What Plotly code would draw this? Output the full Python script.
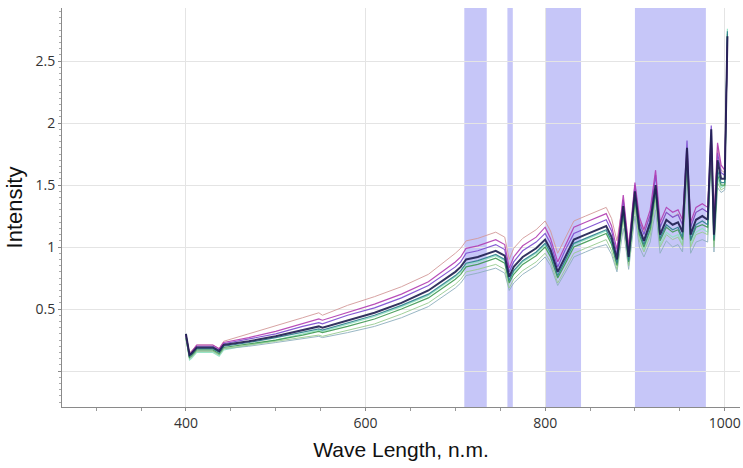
import plotly.graph_objects as go

wavelength = [400, 404, 406, 412, 430, 437, 442, 470, 500, 530, 548, 552, 580, 610, 640, 670, 700, 706, 712, 725,
              745, 755, 760, 765, 775, 790, 800, 806, 814, 822, 832, 845, 858, 868, 874, 880, 887, 893, 900, 905,
              910, 917, 923, 928, 935, 942, 948, 953, 958, 962, 968, 975, 981, 985, 988, 992, 996, 1000, 1003]

s_rose = [0.28, 0.15, 0.16, 0.21, 0.21, 0.18, 0.24, 0.30, 0.36, 0.43, 0.47, 0.45, 0.53, 0.60, 0.68, 0.78, 0.95, 0.99, 1.05, 1.07,
          1.12, 1.08, 0.90, 0.99, 1.07, 1.14, 1.21, 1.13, 0.95, 1.07, 1.21, 1.25, 1.29, 1.32, 1.23, 1.05, 1.38, 1.00, 1.42, 1.22,
          1.12, 1.26, 1.50, 1.17, 1.28, 1.24, 1.27, 1.18, 1.70, 1.17, 1.28, 1.31, 1.28, 1.80, 1.20, 1.82, 1.62, 1.60, 2.65]
s_magenta = [0.29, 0.14, 0.15, 0.21, 0.21, 0.18, 0.23, 0.27, 0.32, 0.38, 0.42, 0.41, 0.47, 0.54, 0.62, 0.72, 0.88, 0.92, 0.99, 1.01,
             1.06, 1.02, 0.83, 0.92, 1.01, 1.08, 1.16, 1.07, 0.88, 1.01, 1.16, 1.20, 1.24, 1.27, 1.17, 0.98, 1.42, 1.00, 1.52, 1.24,
             1.14, 1.30, 1.62, 1.20, 1.32, 1.28, 1.30, 1.22, 1.78, 1.20, 1.32, 1.35, 1.32, 1.85, 1.22, 1.84, 1.66, 1.62, 2.62]
s_purple = [0.29, 0.13, 0.15, 0.20, 0.20, 0.17, 0.22, 0.26, 0.30, 0.36, 0.39, 0.38, 0.45, 0.51, 0.59, 0.69, 0.84, 0.88, 0.95, 0.97,
            1.02, 0.98, 0.80, 0.88, 0.97, 1.04, 1.11, 1.03, 0.84, 0.97, 1.11, 1.15, 1.19, 1.22, 1.13, 0.94, 1.38, 0.96, 1.50, 1.20,
            1.10, 1.26, 1.58, 1.16, 1.28, 1.24, 1.26, 1.18, 1.86, 1.16, 1.28, 1.31, 1.28, 1.98, 1.16, 1.76, 1.60, 1.58, 2.68]
s_navy = [0.30, 0.13, 0.14, 0.19, 0.19, 0.16, 0.21, 0.24, 0.28, 0.33, 0.36, 0.35, 0.41, 0.47, 0.55, 0.65, 0.80, 0.84, 0.90, 0.92,
          0.97, 0.93, 0.76, 0.84, 0.92, 0.99, 1.06, 0.98, 0.80, 0.92, 1.06, 1.10, 1.14, 1.17, 1.08, 0.90, 1.33, 0.92, 1.45, 1.15,
          1.05, 1.20, 1.50, 1.10, 1.22, 1.18, 1.20, 1.12, 1.80, 1.10, 1.22, 1.25, 1.22, 1.95, 1.10, 1.70, 1.55, 1.55, 2.70]
s_teal = [0.30, 0.12, 0.13, 0.18, 0.18, 0.15, 0.20, 0.23, 0.27, 0.31, 0.34, 0.33, 0.39, 0.45, 0.53, 0.62, 0.77, 0.81, 0.87, 0.89,
          0.94, 0.90, 0.73, 0.81, 0.89, 0.96, 1.03, 0.95, 0.77, 0.89, 1.03, 1.07, 1.11, 1.14, 1.05, 0.87, 1.30, 0.89, 1.42, 1.12,
          1.02, 1.17, 1.47, 1.07, 1.18, 1.14, 1.16, 1.08, 1.76, 1.06, 1.18, 1.21, 1.18, 1.90, 1.06, 1.62, 1.52, 1.52, 2.74]
s_green = [0.27, 0.11, 0.12, 0.17, 0.17, 0.14, 0.19, 0.22, 0.25, 0.29, 0.32, 0.31, 0.36, 0.42, 0.50, 0.59, 0.74, 0.78, 0.84, 0.86,
           0.91, 0.87, 0.71, 0.78, 0.86, 0.93, 1.00, 0.92, 0.75, 0.86, 1.00, 1.04, 1.08, 1.11, 1.02, 0.85, 1.28, 0.88, 1.38, 1.10,
           1.00, 1.14, 1.44, 1.05, 1.16, 1.12, 1.14, 1.06, 1.72, 1.05, 1.16, 1.18, 1.16, 1.88, 1.05, 1.58, 1.50, 1.50, 2.72]
s_lightgreen = [0.26, 0.10, 0.11, 0.16, 0.16, 0.13, 0.18, 0.21, 0.24, 0.27, 0.29, 0.28, 0.33, 0.38, 0.46, 0.55, 0.70, 0.74, 0.80, 0.82,
                0.86, 0.82, 0.67, 0.74, 0.81, 0.88, 0.95, 0.88, 0.71, 0.82, 0.95, 0.99, 1.03, 1.06, 0.97, 0.82, 1.22, 0.85, 1.32, 1.05,
                0.96, 1.09, 1.38, 1.00, 1.10, 1.06, 1.08, 1.01, 1.66, 1.00, 1.10, 1.12, 1.10, 1.82, 1.00, 1.52, 1.46, 1.48, 2.70]
s_grayblue = [0.26, 0.10, 0.11, 0.16, 0.16, 0.13, 0.18, 0.20, 0.23, 0.26, 0.28, 0.27, 0.31, 0.36, 0.43, 0.52, 0.67, 0.71, 0.77, 0.79,
              0.83, 0.79, 0.65, 0.71, 0.78, 0.85, 0.92, 0.85, 0.69, 0.79, 0.92, 0.96, 1.00, 1.02, 0.94, 0.80, 1.15, 0.82, 1.25, 1.00,
              0.92, 1.04, 1.30, 0.95, 1.05, 1.00, 1.02, 0.96, 1.58, 0.95, 1.04, 1.06, 1.04, 1.75, 0.96, 1.48, 1.44, 1.46, 2.66]
s_aqua = [0.27, 0.09, 0.10, 0.15, 0.15, 0.12, 0.17, 0.21, 0.25, 0.30, 0.33, 0.32, 0.38, 0.44, 0.52, 0.61, 0.76, 0.80, 0.86, 0.88,
          0.93, 0.89, 0.72, 0.80, 0.88, 0.95, 1.02, 0.94, 0.76, 0.88, 1.02, 1.06, 1.10, 1.13, 1.04, 0.86, 1.26, 0.86, 1.36, 1.08,
          0.98, 1.12, 1.42, 1.02, 1.12, 1.08, 1.10, 1.02, 1.70, 1.02, 1.12, 1.15, 1.12, 1.85, 1.02, 1.55, 1.48, 1.50, 2.76]

band_starts = [710, 758, 800, 900]
band_ends = [735, 764, 840, 979]

x_tickvals = [400, 600, 800, 1000]
x_ticktext = ["400", "600", "800", "1000"]
y_tickvals = [0, 0.5, 1, 1.5, 2, 2.5]
y_ticktext = ["", "0.5", "1", "1.5", "2", "2.5"]

series = [
    (s_aqua, "#8fe3c2", 1.2),
    (s_grayblue, "#8fb0bf", 1.0),
    (s_lightgreen, "#98cc90", 1.0),
    (s_rose, "#d49a9a", 1.0),
    (s_green, "#3f9a52", 1.2),
    (s_teal, "#2c7f8c", 1.2),
    (s_purple, "#7a4ad0", 1.2),
    (s_magenta, "#b23cb2", 1.2),
    (s_navy, "#1d1d4f", 2.0),
]

fig = go.Figure()
for vals, color, w in series:
    fig.add_trace(go.Scatter(x=wavelength, y=vals, mode="lines",
                             line=dict(color=color, width=w), opacity=0.9,
                             showlegend=False, hoverinfo="skip"))

for a, b in zip(band_starts, band_ends):
    fig.add_vrect(x0=a, x1=b, fillcolor="#c6c6f8", opacity=1, line_width=0, layer="below")

fig.update_layout(
    width=743, height=468,
    margin=dict(l=62, r=3, t=8, b=61),
    paper_bgcolor="white", plot_bgcolor="white",
    font=dict(family="Open Sans", size=14, color="#333333"),
)
fig.update_xaxes(
    range=[262, 1017], tickvals=x_tickvals, ticktext=x_ticktext,
    showgrid=True, gridcolor="#e4e4e4", gridwidth=1,
    showline=True, linecolor="#8a8a8a", linewidth=1,
    ticks="outside", ticklen=3, tickcolor="#8a8a8a",
    minor=dict(dtick=50, tick0=0, ticks="outside", ticklen=3, tickcolor="#999999", showgrid=False),
    zeroline=False,
    title=dict(text="Wave Length, n.m.", font=dict(family="Liberation Sans", size=21, color="#111111"), standoff=11),
    tickfont=dict(family="Open Sans", size=14, color="#333333"),
)
fig.update_yaxes(
    range=[-0.29, 2.928], tickvals=y_tickvals, ticktext=y_ticktext,
    showgrid=True, gridcolor="#e4e4e4", gridwidth=1,
    showline=True, linecolor="#8a8a8a", linewidth=1,
    ticks="outside", ticklen=3, tickcolor="#8a8a8a",
    minor=dict(dtick=0.05, tick0=0, ticks="outside", ticklen=2, tickcolor="#aaaaaa", showgrid=False),
    zeroline=False,
    title=dict(text="Intensity", font=dict(family="Liberation Sans", size=22, color="#111111"), standoff=6),
    tickfont=dict(family="Open Sans", size=14, color="#333333"),
)

fig.write_html("out.html")
